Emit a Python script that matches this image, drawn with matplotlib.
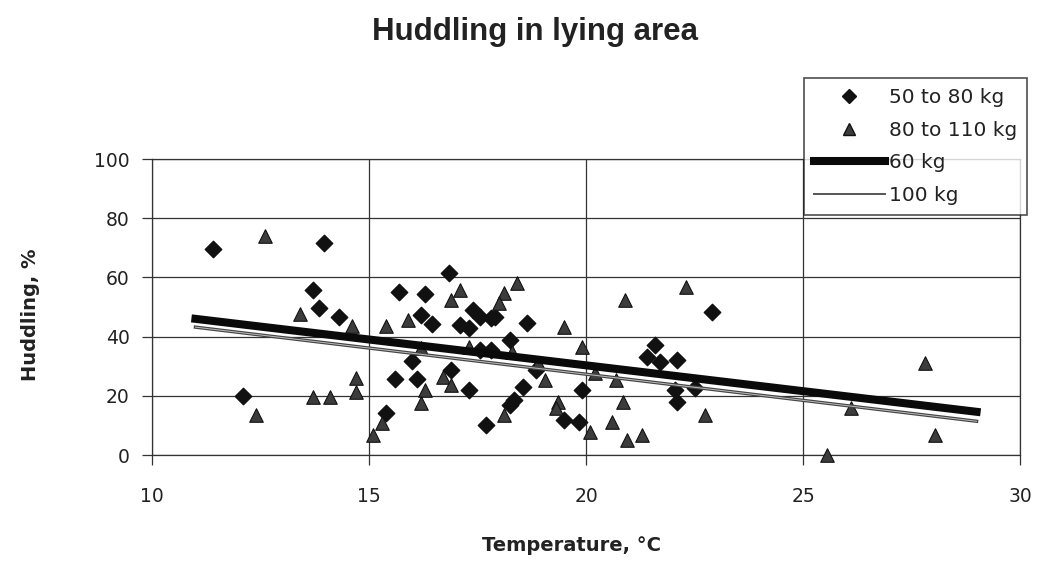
import numpy as np
import matplotlib.pyplot as plt
from matplotlib.lines import Line2D

# --- datos ---
temp_light = [11.4, 12.1, 13.96, 13.7, 13.85, 14.3, 15.7, 16.3, 16.2, 16.45,
              16.0, 15.6, 16.1, 15.4, 16.85, 17.4, 17.55, 17.8, 17.9, 17.1,
              17.3, 18.65, 18.25, 17.55, 17.8, 18.85, 21.4, 16.9, 17.3, 18.55,
              18.35, 18.25, 17.7, 19.9, 19.5, 19.85, 22.9, 21.6, 21.7, 22.1,
              22.05, 22.1, 22.5]
hud_light = [69.6, 20, 71.6, 55.7, 49.7, 46.6, 55, 54.3, 47.3, 44.3,
             31.8, 25.7, 25.7, 14.2, 61.5, 49, 46.6, 46.3, 46.6, 44,
             43, 44.6, 38.9, 35.5, 35.5, 28.7, 33, 28.7, 22, 23,
             18.6, 17, 10, 22, 11.8, 11.2, 48.3, 37, 31.4, 32,
             22, 18, 22.6]

temp_heavy = [12.6, 13.4, 14.6, 15.4, 15.9, 16.2, 16.3, 16.2, 12.4, 13.7,
              14.1, 14.7, 14.7, 15.3, 15.1, 17.1, 16.9, 18.4, 18.1, 18.0,
              19.5, 19.9, 20.9, 17.3, 18.3, 18.9, 19.05, 20.2, 20.7, 16.7,
              16.9, 18.1, 19.35, 19.3, 20.1, 20.85, 20.6, 20.95, 21.3, 22.3,
              22.75, 25.55, 27.8, 26.1, 28.05]
hud_heavy = [74, 47.6, 43.6, 43.6, 45.6, 36, 22, 17.6, 13.5, 19.6,
             19.6, 26, 21.3, 10.8, 6.8, 55.7, 52.4, 58, 54.7, 51.3,
             43.3, 36.5, 52.4, 36.5, 34.8, 31, 25.3, 27.7, 25.3, 26.4,
             23.6, 13.5, 18, 16, 7.8, 18, 11.2, 5, 6.8, 56.8,
             13.5, 0, 31, 16, 6.8]

# rectas de regresion (extremos)
fit_x = [11, 29]
fit_60 = [46.0, 14.6]
fit_100 = [43.2, 11.4]

plt.rcParams['font.family'] = ['DejaVu Sans']
txt = '#222222'

fig = plt.figure(figsize=(10.37, 5.85), dpi=100)
ax = fig.add_axes([0.1466, 0.2222, 0.8370, 0.5060])

ax.scatter(temp_light, hud_light, marker='D', s=70, color='#111111',
           edgecolor='#111111', zorder=3, clip_on=False)
ax.scatter(temp_heavy, hud_heavy, marker='^', s=95, color='#3c3c3c',
           edgecolor='#111111', linewidth=0.8, zorder=3, clip_on=False)
ax.plot(fit_x, fit_60, color='#0a0a0a', linewidth=5.8, zorder=4)
# la recta de 100 kg se ve como una linea doble en el original
ax.plot(fit_x, fit_100, color='#444444', linewidth=2.4, zorder=4)
ax.plot(fit_x, fit_100, color='#bdbdbd', linewidth=0.7, zorder=4)

ax.set_xlim(10, 30)
ax.set_ylim(0, 100)
ax.set_xticks([10, 15, 20, 25, 30])
ax.set_yticks([0, 20, 40, 60, 80, 100])
ax.grid(True, color='#333333', linewidth=0.9)
ax.set_axisbelow(True)
for s in ax.spines.values():
    s.set_color('#333333')
    s.set_linewidth(0.9)
ax.tick_params(direction='out', length=7, width=0.9, color='#333333',
               labelsize=13.5, labelcolor=txt)
ax.tick_params(axis='x', pad=16)
ax.tick_params(axis='y', pad=9)

fig.text(0.516, 0.945, 'Huddling in lying area', ha='center', va='center',
         fontsize=22.5, fontweight='bold', color=txt, family='Liberation Sans')
fig.text(0.551, 0.068, 'Temperature, °C', ha='center', va='center',
         fontsize=14, fontweight='bold', color=txt)
fig.text(0.029, 0.462, 'Huddling, %', ha='center', va='center',
         rotation=90, fontsize=14, fontweight='bold', color=txt)

handles = [
    Line2D([], [], marker='D', linestyle='none', color='#111111', markersize=7),
    Line2D([], [], marker='^', linestyle='none', color='#3c3c3c',
           markeredgecolor='#111111', markersize=9),
    Line2D([], [], color='#0a0a0a', linewidth=5.8),
    Line2D([], [], color='#555555', linewidth=1.4),
]
labels = ['50 to 80 kg', '80 to 110 kg', '60 kg', '100 kg']
leg = fig.legend(handles, labels, loc='upper right',
                 bbox_to_anchor=(0.9904, 0.8667), fontsize=14.5,
                 frameon=True, fancybox=False, edgecolor='#222222',
                 handlelength=3.5, handletextpad=0.2, labelspacing=0.68,
                 borderpad=0.5, borderaxespad=0)
leg.get_frame().set_linewidth(1.2)
for t in leg.get_texts():
    t.set_color(txt)

fig.savefig('out.png', dpi=100)
